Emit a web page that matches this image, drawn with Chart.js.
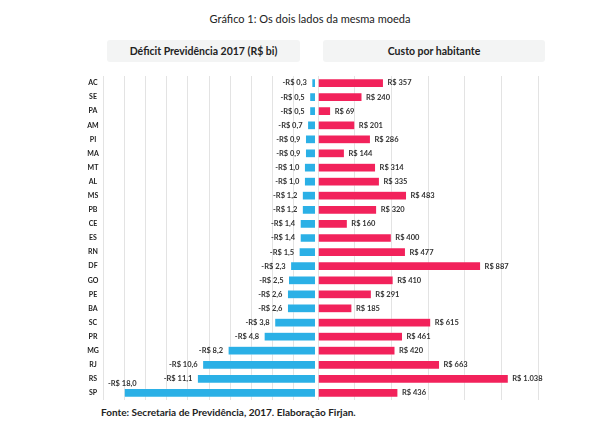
<!DOCTYPE html>
<html>
<head>
<meta charset="utf-8">
<script src="https://cdn.jsdelivr.net/npm/chart.js@4"></script>
<style>
  html, body { margin:0; padding:0; background:#fff; }
  body { width:600px; height:436px; position:relative; overflow:hidden; font-family:"Lato","Open Sans",sans-serif; }
  .title { position:absolute; left:10px; width:600px; top:12px; text-align:center; font-family:"Lato",sans-serif; font-size:11px; color:#222; }
  .hdr { position:absolute; top:40px; height:22px; line-height:22px; background:#f3f4f4; border-radius:3px; text-align:center; font-family:"Lato",sans-serif; font-weight:bold; font-size:10.5px; color:#222; }
  .foot { position:absolute; left:101px; top:406px; font-family:"Lato",sans-serif; font-weight:bold; font-size:10px; color:#222; }
  canvas { position:absolute; }
</style>
</head>
<body>
<div class="title">Gráfico 1: Os dois lados da mesma moeda</div>
<div class="hdr" style="left:107px;width:193px;">Déficit Previdência 2017 (R$ bi)</div>
<div class="hdr" style="left:323px;width:222px;">Custo por habitante</div>
<canvas id="left" width="258" height="330" style="left:58px;top:73px;"></canvas>
<canvas id="right" width="250" height="330" style="left:318px;top:73px;"></canvas>
<div class="foot">Fonte: Secretaria de Previdência, 2017. Elaboração Firjan.</div>
<script>
const states = ["AC","SE","PA","AM","PI","MA","MT","AL","MS","PB","CE","ES","RN","DF","GO","PE","BA","SC","PR","MG","RJ","RS","SP"];
const deficit = [-0.3,-0.5,-0.5,-0.7,-0.9,-0.9,-1.0,-1.0,-1.2,-1.2,-1.4,-1.4,-1.5,-2.3,-2.5,-2.6,-2.6,-3.8,-4.8,-8.2,-10.6,-11.1,-18.0];
const custo = [357,240,69,201,286,144,314,335,483,320,160,400,477,887,410,291,185,615,461,420,663,1038,436];
const deficitTicks = [-20,-18,-16,-14,-12,-10,-8,-6,-4,-2,0];
const custoTicks = [0,200,400,600,800,1000,1200];

const BLUE = "#2bb0e6";
const PINK = "#f2225b";
const LABEL_FONT = "bold 7.5px Lato, 'Open Sans', sans-serif";
const CAT_FONT = "bold 7px Lato, 'Open Sans', sans-serif";

function fmtDef(v){ return "-R$ " + Math.abs(v).toFixed(1).replace(".", ","); }
function fmtCusto(v){ return "R$ " + v.toLocaleString("de-DE"); }

const labelPlugin = {
  id: "barLabels",
  afterDatasetsDraw(chart, args, opts) {
    const ctx = chart.ctx;
    const meta = chart.getDatasetMeta(0);
    const ds = chart.data.datasets[0].data;
    const yScale = chart.scales.y;
    ctx.save();
    ctx.textBaseline = "middle";
    if (opts.side === "left") {
      ctx.font = CAT_FONT;
      ctx.fillStyle = "#222";
      ctx.textAlign = "center";
      chart.data.labels.forEach((lab, i) => {
        ctx.fillText(lab, chart.chartArea.left - 10, yScale.getPixelForValue(i));
      });
    }
    ctx.font = LABEL_FONT;
    ctx.fillStyle = "#333";
    meta.data.forEach((bar, i) => {
      const v = ds[i];
      if (opts.side === "left") {
        const t = fmtDef(v);
        const w = ctx.measureText(t).width;
        if (bar.x - 5 - w < chart.chartArea.left) {
          ctx.textAlign = "left";
          ctx.fillText(t, chart.chartArea.left + 5, bar.y - 9);
        } else {
          ctx.textAlign = "right";
          ctx.fillText(t, bar.x - 5, bar.y);
        }
      } else {
        ctx.textAlign = "left";
        ctx.fillText(fmtCusto(v), bar.x + 4, bar.y);
      }
    });
    ctx.restore();
  }
};

Chart.defaults.animation = false;
Chart.defaults.devicePixelRatio = 1;

function makeOpts(side, min, max, ticks, padLeft, padRight) {
  return {
    indexAxis: "y",
    responsive: false,
    layout: { padding: { top: 3, bottom: 3, left: padLeft, right: padRight } },
    plugins: { legend: { display: false }, tooltip: { enabled: false }, barLabels: { side: side } },
    scales: {
      x: {
        min: min, max: max,
        afterBuildTicks(s){ s.ticks = ticks.map(v => ({ value: v })); },
        grid: { color: "#e3e3e3", drawTicks: false, lineWidth: (c) => (side === "left" && c.tick && c.tick.value === 0) ? 0 : 1 },
        border: { display: false },
        ticks: { display: false }
      },
      y: { display: false }
    }
  };
}

new Chart(document.getElementById("left"), {
  type: "bar",
  data: { labels: states, datasets: [{ data: deficit, backgroundColor: BLUE, borderColor: "rgba(255,255,255,0.6)", borderWidth: 0.5, barPercentage: 0.62, categoryPercentage: 1 }] },
  options: makeOpts("left", -20, 0, deficitTicks, 45, 1),
  plugins: [labelPlugin]
});

new Chart(document.getElementById("right"), {
  type: "bar",
  data: { labels: states, datasets: [{ data: custo, backgroundColor: PINK, borderColor: "rgba(255,255,255,0.6)", borderWidth: 0.5, barPercentage: 0.62, categoryPercentage: 1 }] },
  options: makeOpts("right", 0, 1200, custoTicks, 0, 30),
  plugins: [labelPlugin]
});
</script>
</body>
</html>
